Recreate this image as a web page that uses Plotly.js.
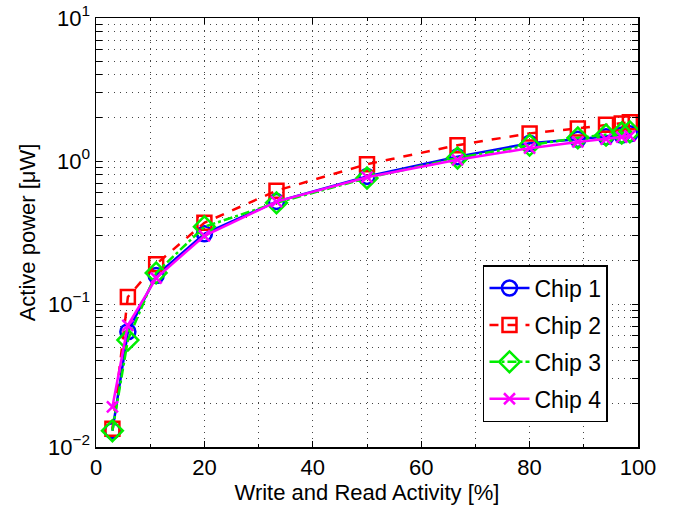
<!DOCTYPE html>
<html>
<head>
<meta charset="utf-8">
<script src="https://cdn.plot.ly/plotly-3.0.1.min.js"></script>
<style>html,body{margin:0;padding:0;background:#fff;}#chart{width:685px;height:508px;}</style>
</head>
<body>
<div id="chart"></div>
<script>
const activity = [3.03, 5.88, 11.1, 20, 33.3, 50, 66.7, 80, 88.9, 94.1, 97.0, 98.5];
const chip1 = [0.013, 0.064, 0.158, 0.31, 0.52, 0.78, 1.07, 1.33, 1.42, 1.48, 1.52, 1.55];
const chip2 = [0.0134, 0.112, 0.19, 0.37, 0.62, 0.95, 1.29, 1.56, 1.69, 1.79, 1.83, 1.87];
const chip3 = [0.013, 0.056, 0.165, 0.347, 0.51, 0.76, 1.05, 1.29, 1.45, 1.52, 1.57, 1.60];
const chip4 = [0.0191, 0.071, 0.152, 0.30, 0.52, 0.77, 1.02, 1.23, 1.36, 1.42, 1.47, 1.50];
const names = ["Chip 1", "Chip 2", "Chip 3", "Chip 4"];
const xTickVals = [0, 20, 40, 60, 80, 100];

const yTickVals = [];
const yTickText = [];
const exps = [-2, -1, 0, 1];
for (const e of exps) {
  for (let m = 1; m <= 9; m++) {
    if (e === 1 && m > 1) break;
    yTickVals.push(m * Math.pow(10, e));
    yTickText.push(m === 1 ? "10<sup>" + (e < 0 ? "\u2212" + (-e) : e) + "</sup>" : "");
  }
}

const traces = [
  {x: activity, y: chip1, name: names[0], legendgroup: "g1", mode: "lines+markers",
   line: {color: "#0000ff", width: 2.5},
   marker: {symbol: "circle-open", size: 15, color: "#0000ff", line: {width: 2.5, color: "#0000ff"}}},
  {x: activity, y: chip2, name: names[1], legendgroup: "g2", mode: "lines+markers",
   line: {color: "#ff0000", width: 2.5, dash: "dash"},
   marker: {symbol: "square-open", size: 14, color: "#ff0000", line: {width: 2.5, color: "#ff0000"}}},
  {x: activity, y: chip3, name: names[2], legendgroup: "g3", mode: "lines+markers",
   line: {color: "#00ee00", width: 2.5, dash: "dashdot"},
   marker: {symbol: "diamond-open", size: 16, color: "#00ee00", line: {width: 2.5, color: "#00ee00"}}},
  {x: activity, y: chip4, name: names[3], legendgroup: "g4", mode: "lines+markers",
   line: {color: "#ff00ff", width: 2.5},
   marker: {symbol: "x-thin-open", size: 11, color: "#ff00ff", line: {width: 2.5, color: "#ff00ff"}}}
];

const gridStyle = {gridcolor: "#444", griddash: "1px,5px", gridwidth: 1};
const axisCommon = Object.assign({
  showline: true, linecolor: "#000", linewidth: 1.5, mirror: "ticks",
  ticks: "inside", ticklen: 6, tickcolor: "#000", tickwidth: 1,
  showgrid: true, zeroline: false,
  tickfont: {family: "Liberation Sans, Arial, sans-serif", size: 22, color: "#000"}
}, gridStyle);

const layout = {
  width: 685, height: 508,
  margin: {l: 96, r: 47, t: 18, b: 61},
  paper_bgcolor: "#fff", plot_bgcolor: "#fff",
  showlegend: true,
  font: {family: "Liberation Sans, Arial, sans-serif", color: "#000"},
  xaxis: Object.assign({}, axisCommon, {
    range: [0, 100], tickmode: "array", tickvals: xTickVals,
    minor: Object.assign({dtick: 10, tick0: 0, showgrid: true, ticks: "inside", ticklen: 3, tickcolor: "#000"}, gridStyle),
    title: {text: "Write and Read Activity [%]", font: {size: 22, color: "#000"}, standoff: 4}
  }),
  yaxis: Object.assign({}, axisCommon, {
    type: "log", range: [-2, 1], tickmode: "array", tickvals: yTickVals, ticktext: yTickText,
    title: {text: "Active power [\u03bcW]", font: {size: 22, color: "#000"}, standoff: 6}
  }),
  legend: {
    x: 0.714, y: 0.424, xanchor: "left", yanchor: "top",
    bgcolor: "#fff", bordercolor: "#000", borderwidth: 1.5,
    font: {size: 23, color: "#000"}, itemwidth: 40, tracegroupgap: 4
  }
};

Plotly.newPlot("chart", traces, layout, {displayModeBar: false, staticPlot: true});
</script>
</body>
</html>
